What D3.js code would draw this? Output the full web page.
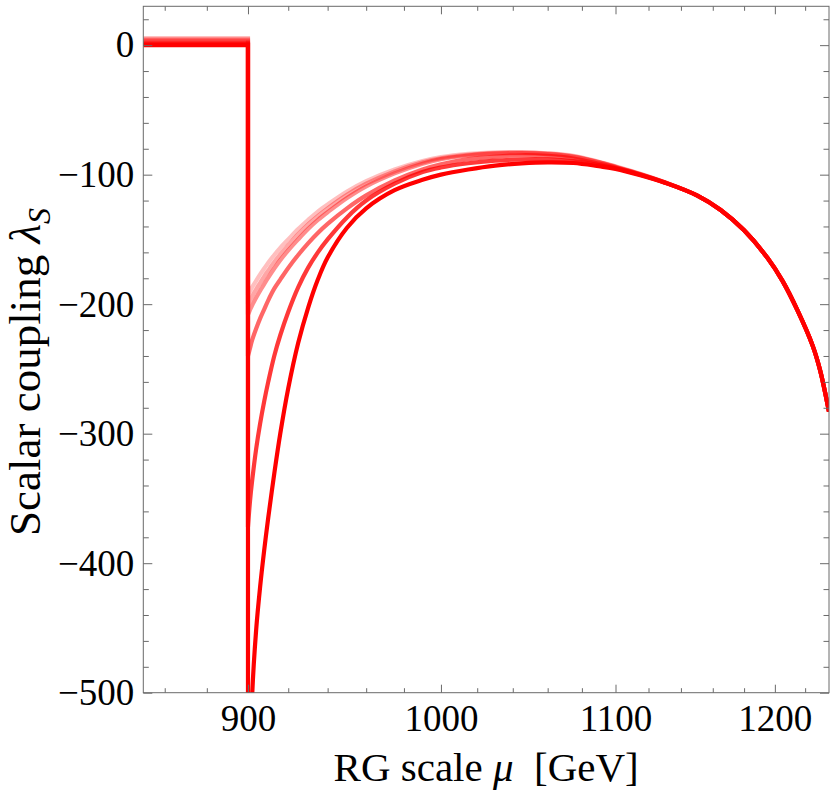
<!DOCTYPE html>
<html>
<head>
<meta charset="utf-8">
<script src="https://cdn.jsdelivr.net/npm/d3@7"></script>
<style>
  body { margin: 0; background: #fff; }
</style>
</head>
<body>
<svg id="chart" width="830" height="794"></svg>
<script>
// RG scale grid (GeV) for the part above the threshold
const muGrid = [900, 901, 902, 904, 906, 908, 910, 913, 916, 920, 925, 930, 935, 940, 950, 960,
  975, 990, 1000, 1015, 1030, 1045, 1060, 1075, 1090, 1100, 1115, 1130, 1150, 1165, 1180,
  1195, 1205, 1215, 1225, 1230, 1236];

// lambda_S below 900 GeV (flat part), one value per curve
const flatLevels = [5.5, 4.5, 3.5, 2, 1, 0];

// lambda_S above 900 GeV (palest curve first)
const lamA = [-193, -190, -187, -182, -177, -172.5, -168, -162, -156.5, -150, -142, -135, -128.5, -123, -113, -105,
  -96, -89.5, -86.5, -84, -82.8, -82.6, -83.5, -85.5, -90, -93.5, -99.3, -105.8, -116, -127.3, -143,
  -164, -182, -205, -232, -251, -283];
const lamB = [-200, -197, -194, -188.5, -183.5, -178.5, -174, -167.5, -161.5, -154.5, -146, -138.5, -132, -126, -115.5, -107,
  -97.5, -90.5, -87.3, -84.6, -83.3, -83, -83.8, -85.8, -90.2, -93.8, -99.5, -105.9, -116, -127.3, -143,
  -164, -182, -205, -232, -251, -283];
const lamC = [-208, -204.5, -201, -195, -189.5, -184.5, -179.5, -172.5, -166, -158.5, -150, -142, -135, -129, -118, -109,
  -99, -91.5, -88, -85.2, -83.8, -83.4, -84.2, -86.2, -90.5, -94.1, -99.6, -106, -116, -127.3, -143,
  -164, -182, -205, -232, -251, -283];
const lamD = [-240, -234, -228, -219, -211, -204, -197, -188, -181, -172, -162, -153, -145, -138, -126, -116,
  -104.5, -96, -92, -88, -86, -85, -85.5, -87.5, -91.5, -94.5, -99.8, -106, -116, -127.3, -143,
  -164, -182, -205, -232, -251, -283];
const lamE = [-372, -352, -337, -312, -292, -275, -260, -240, -224, -206, -187, -172, -160, -150, -133, -120,
  -107, -98, -94.5, -91.2, -89.2, -88.2, -88.2, -89.5, -92.5, -95, -100.1, -106.1, -116, -127.3, -143,
  -164, -182, -205, -232, -251, -283];
const lamF = [-1000, -640, -505, -452, -418, -390, -365, -331, -300, -265, -230, -203, -181, -164, -141, -126,
  -112, -104, -100, -96, -93, -91.3, -90.5, -91, -93.5, -95.5, -100.4, -106.2, -116, -127.3, -143,
  -164, -182, -205, -232, -251, -283];

const curves = [lamA, lamB, lamC, lamD, lamE, lamF];
const opacities = [0.25, 0.35, 0.45, 0.6, 0.78, 1];

// axis ticks
const xMajor = [900, 1000, 1100, 1200];
const xMinor = d3.range(860, 1236, 20).filter(v => v % 100 !== 0);
const yMajor = [0, -100, -200, -300, -400, -500];
const yMinor = d3.range(20, -500, -20).filter(v => v % 100 !== 0);

const svg = d3.select("#chart"),
      margin = {top: 6.3, right: 1, bottom: 101.3, left: 143.3},
      width = +svg.attr("width") - margin.left - margin.right,
      height = +svg.attr("height") - margin.top - margin.bottom;

const g = svg.append("g").attr("transform", `translate(${margin.left},${margin.top})`);

const x = d3.scaleLog().domain([850, 1236]).range([0, width]);
const y = d3.scaleLinear().domain([-500, 30]).range([height, 0]);

const font = "'Liberation Serif', 'Times New Roman', serif";
const frameColor = "#6a6a6a";

g.append("clipPath").attr("id", "plotclip")
  .append("rect").attr("width", width).attr("height", height);

// curves: a flat step up to 900 GeV, then the smooth running
const stepLine = d3.line().x(d => x(d[0])).y(d => y(d[1]));
const smoothLine = d3.line().x(d => x(d[0])).y(d => y(d[1])).curve(d3.curveCatmullRom.alpha(0.5));

g.append("g").attr("clip-path", "url(#plotclip)")
  .selectAll("path")
  .data(curves)
  .enter().append("path")
    .attr("fill", "none")
    .attr("stroke", "#ff0000")
    .attr("stroke-width", 4.2)
    .attr("stroke-opacity", (d, i) => opacities[i])
    .attr("d", (d, i) => {
      const step = stepLine([[850, flatLevels[i]], [900, flatLevels[i]]]);
      const rest = smoothLine(muGrid.map((m, j) => [m, d[j]]));
      return step + rest.replace(/^M/, "L");
    });

// ticks (inward, on all four sides)
function styleAxis(sel) {
  sel.select(".domain").remove();
  sel.selectAll("line").attr("stroke", frameColor);
  sel.selectAll("text").attr("font-family", font).attr("font-size", 37).attr("fill", "#000");
}

g.append("g").attr("transform", `translate(0,${height})`)
  .call(d3.axisBottom(x).tickValues(xMajor).tickFormat(d3.format("d")).tickSizeInner(-8).tickSizeOuter(0).tickPadding(12))
  .call(styleAxis);
g.append("g").attr("transform", `translate(0,${height})`)
  .call(d3.axisBottom(x).tickValues(xMinor).tickFormat("").tickSizeInner(-4.5).tickSizeOuter(0))
  .call(styleAxis);
g.append("g")
  .call(d3.axisTop(x).tickValues(xMajor).tickFormat("").tickSizeInner(-8).tickSizeOuter(0))
  .call(styleAxis);
g.append("g")
  .call(d3.axisTop(x).tickValues(xMinor).tickFormat("").tickSizeInner(-4.5).tickSizeOuter(0))
  .call(styleAxis);

g.append("g")
  .call(d3.axisLeft(y).tickValues(yMajor).tickFormat(d => d < 0 ? "\u2212" + Math.abs(d) : d)
    .tickSizeInner(-9).tickSizeOuter(0).tickPadding(9))
  .call(styleAxis);
g.append("g")
  .call(d3.axisLeft(y).tickValues(yMinor).tickFormat("").tickSizeInner(-5.5).tickSizeOuter(0))
  .call(styleAxis);
g.append("g").attr("transform", `translate(${width},0)`)
  .call(d3.axisRight(y).tickValues(yMajor).tickFormat("").tickSizeInner(-9).tickSizeOuter(0))
  .call(styleAxis);
g.append("g").attr("transform", `translate(${width},0)`)
  .call(d3.axisRight(y).tickValues(yMinor).tickFormat("").tickSizeInner(-5.5).tickSizeOuter(0))
  .call(styleAxis);

// frame
g.append("rect")
  .attr("width", width).attr("height", height)
  .attr("fill", "none").attr("stroke", frameColor).attr("stroke-width", 1);

// axis titles
const xt = svg.append("text")
  .attr("x", margin.left + width / 2)
  .attr("y", 781)
  .attr("text-anchor", "middle")
  .attr("font-family", font)
  .attr("font-size", 41);
xt.append("tspan").text("RG scale ");
xt.append("tspan").attr("font-style", "italic").text("\u03bc");
xt.append("tspan").text("\u00a0\u00a0[GeV]");

const yt = svg.append("text")
  .attr("transform", "translate(40,372) rotate(-90)")
  .attr("text-anchor", "middle")
  .attr("font-family", font)
  .attr("font-size", 45);
yt.append("tspan").text("Scalar coupling ");
yt.append("tspan").attr("font-style", "italic").text("\u03bb");
yt.append("tspan").attr("font-style", "italic").attr("font-size", 32).attr("dy", "0.3em").text("S");
</script>
</body>
</html>
